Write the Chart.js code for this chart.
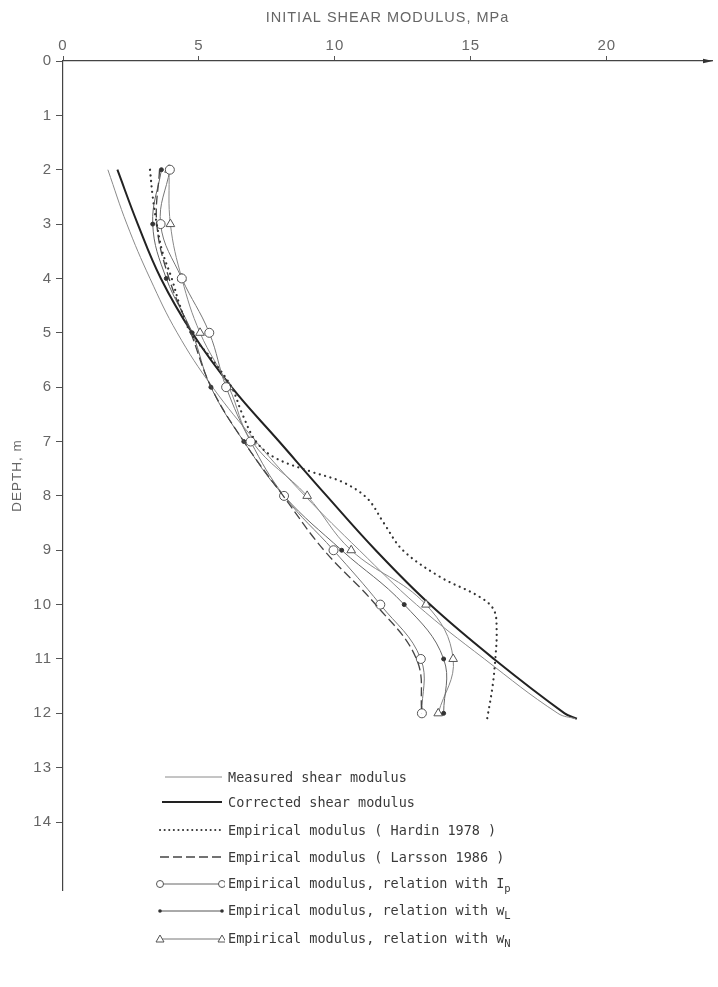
<!DOCTYPE html>
<html>
<head>
<meta charset="utf-8">
<script src="https://cdn.jsdelivr.net/npm/chart.js@4.4.1/dist/chart.umd.min.js"></script>
<style>
  body { margin: 0; background: #fff; }
  #wrap { position: relative; width: 718px; height: 987px; }
  #legend { position: absolute; left: 0; top: 0; font-family: "DejaVu Sans Mono", monospace; font-size: 13.5px; color: #3a3a3a; }
  .row { position: absolute; left: 153px; height: 20px; display: flex; align-items: center; white-space: nowrap; }
  .row svg { width: 72px; height: 20px; flex: none; }
  .row span { margin-left: 3px; }
  .row sub { font-size: 10.5px; vertical-align: -4px; }
</style>
</head>
<body>
<div id="wrap">
  <canvas id="shearChart" width="718" height="987"></canvas>
  <div id="legend">
    <div class="row" style="top:767px">
      <svg><line x1="12" y1="10" x2="69" y2="10" stroke="#8a8a8a" stroke-width="1"/></svg>
      <span>Measured shear modulus</span>
    </div>
    <div class="row" style="top:792px">
      <svg><line x1="9" y1="10" x2="69" y2="10" stroke="#222" stroke-width="2"/></svg>
      <span>Corrected shear modulus</span>
    </div>
    <div class="row" style="top:820px">
      <svg><line x1="7" y1="10" x2="69" y2="10" stroke="#333" stroke-width="2" stroke-dasharray="0.1 4.5" stroke-linecap="round"/></svg>
      <span>Empirical modulus ( Hardin 1978 )</span>
    </div>
    <div class="row" style="top:847px">
      <svg><line x1="7" y1="10" x2="69" y2="10" stroke="#444" stroke-width="1.3" stroke-dasharray="9 4"/></svg>
      <span>Empirical modulus ( Larsson 1986 )</span>
    </div>
    <div class="row" style="top:874px">
      <svg><line x1="7" y1="10" x2="69" y2="10" stroke="#666" stroke-width="1"/>
        <circle cx="7" cy="10" r="3.5" fill="#fff" stroke="#555"/><circle cx="69" cy="10" r="3.5" fill="#fff" stroke="#555"/></svg>
      <span>Empirical modulus, relation with I<sub>p</sub></span>
    </div>
    <div class="row" style="top:901px">
      <svg><line x1="7" y1="10" x2="69" y2="10" stroke="#555" stroke-width="1"/>
        <circle cx="7" cy="10" r="1.8" fill="#333"/><circle cx="69" cy="10" r="1.8" fill="#333"/></svg>
      <span>Empirical modulus, relation with w<sub>L</sub></span>
    </div>
    <div class="row" style="top:929px">
      <svg><line x1="7" y1="10" x2="69" y2="10" stroke="#777" stroke-width="1"/>
        <polygon points="7,6 11,13 3,13" fill="#fff" stroke="#555"/><polygon points="69,6 73,13 65,13" fill="#fff" stroke="#555"/></svg>
      <span>Empirical modulus, relation with w<sub>N</sub></span>
    </div>
  </div>
</div>
<script>
// depths (m) and initial shear modulus (MPa)
const curveDepth = [2, 3, 4, 5, 6, 7, 8, 9, 10, 11, 12, 12.1];
const measuredG = [1.65, 2.35, 3.2, 4.2, 5.5, 7.1, 8.9, 10.9, 13.0, 15.5, 18.2, 18.85];
const correctedG = [2.0, 2.75, 3.6, 4.75, 6.2, 7.95, 9.7, 11.5, 13.5, 15.85, 18.45, 18.9];

const hardinDepth = [2, 2.5, 3, 3.5, 4, 4.5, 5, 5.5, 6, 6.5, 7, 7.3, 7.55, 7.75, 8.05, 8.5, 9, 9.5, 9.85, 10.1, 10.5, 11, 11.5, 12.1];
const hardinG = [3.2, 3.3, 3.45, 3.65, 4.0, 4.3, 4.7, 5.5, 6.2, 6.6, 7.1, 7.8, 9.1, 10.3, 11.2, 11.8, 12.5, 13.9, 15.3, 15.85, 15.95, 15.9, 15.8, 15.6];

const pointDepth = [2, 3, 4, 5, 6, 7, 8, 9, 10, 11, 12];
const larssonG = [3.55, 3.45, 3.9, 4.7, 5.45, 6.65, 8.1, 9.6, 11.5, 13.0, 13.2];
const ipG = [3.93, 3.59, 4.37, 5.38, 6.0, 6.9, 8.13, 9.95, 11.67, 13.16, 13.2];
const wlG = [3.62, 3.3, 3.8, 4.75, 5.44, 6.65, 8.13, 10.25, 12.55, 14.0, 14.0];
const wnG = [3.9, 3.95, 4.37, 5.04, 6.1, 6.95, 8.98, 10.6, 13.35, 14.35, 13.8];

const xTicks = [0, 5, 10, 15, 20];
const yTicks = [0, 1, 2, 3, 4, 5, 6, 7, 8, 9, 10, 11, 12, 13, 14];

const pts = (depths, values) => depths.map((d, i) => ({ x: values[i], y: d }));

// spaced-out lettering like the original plot, and an arrow head on the modulus axis
const plotterLook = {
  id: 'plotterLook',
  beforeDraw(chart) {
    chart.ctx.letterSpacing = '1px';
  },
  afterDraw(chart) {
    const { ctx, chartArea } = chart;
    ctx.save();
    ctx.fillStyle = '#333';
    ctx.beginPath();
    ctx.moveTo(chartArea.right + 1, chartArea.top);
    ctx.lineTo(chartArea.right - 9, chartArea.top - 2.2);
    ctx.lineTo(chartArea.right - 9, chartArea.top + 2.2);
    ctx.closePath();
    ctx.fill();
    ctx.restore();
  }
};

const ctx = document.getElementById('shearChart').getContext('2d');
const shearChart = new Chart(ctx, {
  type: 'scatter',
  data: {
    datasets: [
      {
        label: 'Empirical modulus (Hardin 1978)',
        data: pts(hardinDepth, hardinG),
        showLine: true,
        borderColor: '#333',
        borderWidth: 2.2,
        borderDash: [0.1, 5.5],
        borderCapStyle: 'round',
        pointRadius: 0,
        tension: 0.35
      },
      {
        label: 'Empirical modulus (Larsson 1986)',
        data: pts(pointDepth, larssonG),
        showLine: true,
        borderColor: '#444',
        borderWidth: 1.3,
        borderDash: [9, 4],
        pointRadius: 0,
        tension: 0.4
      },
      {
        label: 'Empirical modulus, relation with Ip',
        data: pts(pointDepth, ipG),
        showLine: true,
        borderColor: '#777',
        borderWidth: 1,
        pointStyle: 'circle',
        pointRadius: 4.5,
        pointBackgroundColor: '#fff',
        pointBorderColor: '#555',
        pointBorderWidth: 1,
        tension: 0.4
      },
      {
        label: 'Empirical modulus, relation with wL',
        data: pts(pointDepth, wlG),
        showLine: true,
        borderColor: '#666',
        borderWidth: 1,
        pointRadius: 2,
        pointBackgroundColor: '#333',
        pointBorderColor: '#333',
        tension: 0.4
      },
      {
        label: 'Empirical modulus, relation with wN',
        data: pts(pointDepth, wnG),
        showLine: true,
        borderColor: '#888',
        borderWidth: 1,
        pointStyle: 'triangle',
        pointRadius: 5,
        pointBackgroundColor: '#fff',
        pointBorderColor: '#555',
        pointBorderWidth: 1,
        tension: 0.4
      },
      {
        label: 'Measured shear modulus',
        data: pts(curveDepth, measuredG),
        showLine: true,
        borderColor: '#8a8a8a',
        borderWidth: 1,
        pointRadius: 0,
        tension: 0.4
      },
      {
        label: 'Corrected shear modulus',
        data: pts(curveDepth, correctedG),
        showLine: true,
        borderColor: '#222',
        borderWidth: 2,
        pointRadius: 0,
        tension: 0.4
      }
    ]
  },
  options: {
    responsive: false,
    animation: false,
    layout: { padding: { left: 0, top: 0, right: 1, bottom: 97 } },
    plugins: {
      legend: { display: false },
      tooltip: { enabled: false }
    },
    scales: {
      x: {
        type: 'linear',
        position: 'top',
        min: 0,
        max: 23.87,
        afterBuildTicks: s => { s.ticks = xTicks.map(v => ({ value: v })); },
        afterFit: s => { s.height = 61; },
        ticks: {
          color: '#666',
          padding: 1,
          font: { family: 'Liberation Sans', size: 15 }
        },
        grid: { drawOnChartArea: false, tickLength: 5, color: '#555' },
        border: { color: '#444', width: 1.2 },
        title: {
          display: true,
          text: 'INITIAL SHEAR MODULUS, MPa',
          color: '#666',
          font: { family: 'Liberation Sans', size: 14.5 },
          padding: { top: 9, bottom: 0 }
        }
      },
      y: {
        type: 'linear',
        reverse: true,
        min: 0,
        max: 15.25,
        afterBuildTicks: s => { s.ticks = yTicks.map(v => ({ value: v })); },
        afterFit: s => { s.width = 63; },
        ticks: {
          color: '#666',
          padding: 4,
          font: { family: 'Liberation Sans', size: 15 }
        },
        grid: { drawOnChartArea: false, tickLength: 7, color: '#555' },
        border: { color: '#444', width: 1.2 },
        title: {
          display: true,
          text: 'DEPTH, m',
          color: '#666',
          font: { family: 'Liberation Sans', size: 13.5 },
          padding: { top: 9, bottom: 0 }
        }
      }
    }
  },
  plugins: [plotterLook]
});
</script>
</body>
</html>
